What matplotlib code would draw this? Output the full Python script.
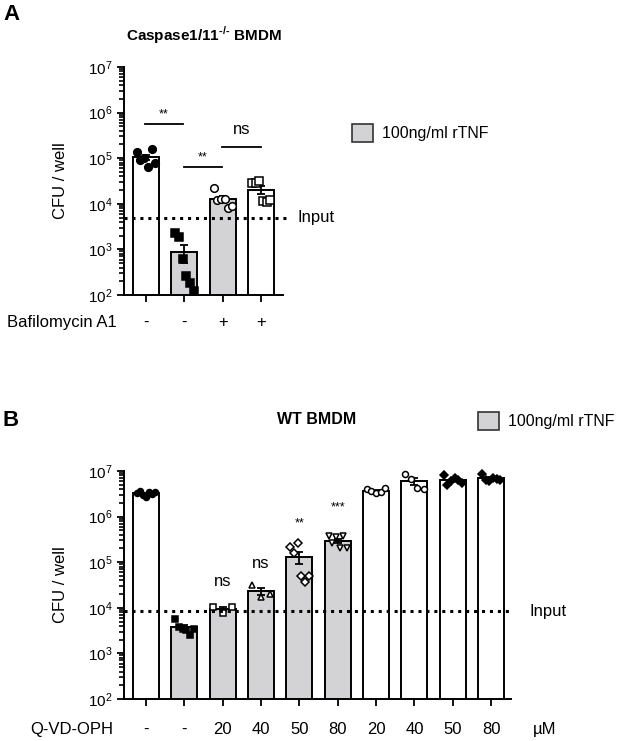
import matplotlib
matplotlib.use('Agg')
import matplotlib.pyplot as plt
from matplotlib.patches import Patch
from matplotlib.ticker import LogLocator, FixedLocator
import numpy as np

plt.rcParams['font.family'] = ['Liberation Sans', 'DejaVu Sans']
plt.rcParams['font.size'] = 11

# ---- data, panel A (Caspase1/11-/- BMDM) ----
a_groups = ['ctrl', 'rTNF', 'rTNF + Baf', 'Baf']
a_signs = ['-', '-', '+', '+']
a_points = [
    [1.38e5, 9.1e4, 1.0e5, 6.5e4, 1.57e5, 8.0e4],
    [2250, 1900, 610, 260, 186, 124],
    [2.2e4, 1.2e4, 1.3e4, 1.25e4, 8.0e3, 9.0e3],
    [2.8e4, 2.8e4, 3.2e4, 1.15e4, 1.1e4, 1.2e4],
]
a_tnf = [False, True, True, False]
a_markers = ['o', 's', 'o', 's']
a_filled = [True, True, False, False]
a_input = 5000
# brackets: (x0, x1, y, label, label_y)
a_brackets = [(-0.03, 0.96, 10**5.75, '**', 10**5.97),
              (0.99, 1.98, 10**4.81, '**', 10**5.02),
              (1.98, 3.0, 10**5.25, 'ns', 10**5.62)]

# ---- data, panel B (WT BMDM) ----
b_doses = ['-', '-', '20', '40', '50', '80', '20', '40', '50', '80']
b_points = [
    [3.3e6, 3.6e6, 3.0e6, 2.7e6, 3.5e6, 3.2e6, 3.4e6],
    [5.8e3, 3.8e3, 3.4e3, 3.2e3, 2.5e3, 3.5e3],
    [1.02e4, 7.8e3, 1.02e4],
    [3.2e4, 1.75e4, 2.0e4],
    [2.2e5, 1.6e5, 2.6e5, 5.0e4, 3.6e4, 5.0e4],
    [3.7e5, 2.6e5, 3.5e5, 2.0e5, 3.7e5, 2.1e5],
    [4.0e6, 3.7e6, 3.3e6, 3.4e6, 4.2e6],
    [8.6e6, 6.8e6, 4.3e6, 4.0e6],
    [8.0e6, 5.0e6, 6.0e6, 7.0e6, 6.5e6, 5.5e6],
    [8.7e6, 6.5e6, 6.0e6, 7.2e6, 6.8e6, 6.2e6],
]
b_tnf = [False, True, True, True, True, True, False, False, False, False]
b_markers = ['o', 's', 's', '^', 'D', 'v', 'o', 'o', 'D', 'D']
b_filled = [True, True, False, False, False, False, False, False, True, True]
b_input = 8500
b_sig = {2: ('ns', 10**4.57), 3: ('ns', 10**4.98), 4: ('**', 10**5.86), 5: ('***', 10**6.19)}

grey = '#d3d3d5'
W, H = 619, 741


def fx(px):
    return px / W


def fy(py):
    return 1 - py / H


def jitter(n):
    if n == 1:
        return [0.0]
    return list(np.linspace(-0.24, 0.24, n))


def draw_panel(ax, points, tnf, markers, filled, msize):
    x = np.arange(len(points))
    means = [np.mean(p) for p in points]
    sems = [np.std(p, ddof=1) / np.sqrt(len(p)) for p in points]
    colors = [grey if t else 'white' for t in tnf]
    ax.set_yscale('log')
    ax.bar(x, means, width=0.68, color=colors, edgecolor='black', linewidth=1.4,
           bottom=1, zorder=2)
    ax.errorbar(x, means, yerr=sems, fmt='none', ecolor='black', elinewidth=1.3,
                capsize=3, capthick=1.3, zorder=3)
    for i, pts in enumerate(points):
        off = jitter(len(pts))
        ax.plot(i + np.array(off), pts, linestyle='none', marker=markers[i],
                markersize=msize, markeredgewidth=1.1, markeredgecolor='black',
                markerfacecolor='black' if filled[i] else 'white', zorder=4, clip_on=False)
    ax.set_ylim(1e2, 1e7)
    ax.set_xticks(x)
    ax.set_xticklabels([])
    ax.yaxis.set_major_locator(LogLocator(base=10, numticks=10))
    minor = [m * 10.0**k for k in range(2, 7) for m in range(2, 10)]
    ax.yaxis.set_minor_locator(FixedLocator(minor))
    ax.tick_params(axis='both', which='major', direction='out', length=5, width=1.3, labelsize=11)
    ax.tick_params(axis='y', which='minor', direction='out', length=3.5, width=1.2,
                   left=True, color='black')
    for s in ['top', 'right']:
        ax.spines[s].set_visible(False)
    for s in ['left', 'bottom']:
        ax.spines[s].set_linewidth(1.4)
    ax.set_ylabel('CFU / well', fontsize=12)


fig = plt.figure(figsize=(6.19, 7.41), dpi=100)

# panel A
axA = fig.add_axes([fx(124), fy(295), fx(283) - fx(124), (295 - 67) / H])
draw_panel(axA, a_points, a_tnf, a_markers, a_filled, 5.5)
axA.set_xlim(-0.573, 3.57)
axA.yaxis.set_label_coords(-0.352, 0.5)
axA.plot([-0.573, 3.7], [a_input, a_input], linestyle=(0, (1, 1.6)), color='black',
         linewidth=2.2, clip_on=False, zorder=5)
axA.text(3.95, a_input, 'Input', va='center', ha='left', fontsize=12)
for x0, x1, y, lab, ly in a_brackets:
    axA.plot([x0, x1], [y, y], color='black', linewidth=1.3, clip_on=False)
    axA.text((x0 + x1) / 2, ly, lab, ha='center', va='center',
             fontsize=9 if lab != 'ns' else 12)
for i, s in enumerate(a_signs):
    axA.text(i, -0.12, s, transform=axA.get_xaxis_transform(), ha='center', va='center', fontsize=12)
axA.text(-0.573 - 0.2, -0.12, 'Bafilomycin A1', transform=axA.get_xaxis_transform(),
         ha='right', va='center', fontsize=12)

# panel B
axB = fig.add_axes([fx(124), fy(699), fx(511) - fx(124), (699 - 471) / H])
draw_panel(axB, b_points, b_tnf, b_markers, b_filled, 4.3)
axB.set_xlim(-0.574, 9.52)
axB.yaxis.set_label_coords(-0.145, 0.5)
axB.plot([-0.574, 9.58], [b_input, b_input], linestyle=(0, (1, 1.6)), color='black',
         linewidth=2.2, clip_on=False, zorder=5)
axB.text(10.0, b_input, 'Input', va='center', ha='left', fontsize=12)
for i, (lab, ly) in b_sig.items():
    axB.text(i, ly, lab, ha='center', va='center', fontsize=9 if lab != 'ns' else 12)
for i, s in enumerate(b_doses):
    axB.text(i, -0.135, s, transform=axB.get_xaxis_transform(), ha='center', va='center', fontsize=12)
axB.text(10.1, -0.135, 'µM', transform=axB.get_xaxis_transform(), ha='left', va='center', fontsize=12)
axB.text(-0.574 - 0.28, -0.135, 'Q-VD-OPH', transform=axB.get_xaxis_transform(),
         ha='right', va='center', fontsize=12)

# titles and panel letters
fig.text(fx(204), fy(35), 'Caspase1/11$^{\\mathregular{\u2010/\u2010}}$ BMDM', ha='center', va='center',
         fontsize=11, fontweight='bold')
fig.text(fx(317), fy(420), 'WT BMDM', ha='center', va='center', fontsize=11.5, fontweight='bold')
fig.text(fx(3), fy(14), 'A', ha='left', va='center', fontsize=16, fontweight='bold')
fig.text(fx(3), fy(420), 'B', ha='left', va='center', fontsize=16, fontweight='bold')

# legends
for lx, ly in [(352, 133), (478, 421)]:
    fig.legend(handles=[Patch(facecolor=grey, edgecolor='#333333', linewidth=1.2,
                              label='100ng/ml rTNF')],
               loc='center left', bbox_to_anchor=(fx(lx), fy(ly)), frameon=False,
               fontsize=11.5, handlelength=1.3, handleheight=1.3, handletextpad=0.6,
               borderpad=0, borderaxespad=0)

fig.savefig('out.png', dpi=100)
